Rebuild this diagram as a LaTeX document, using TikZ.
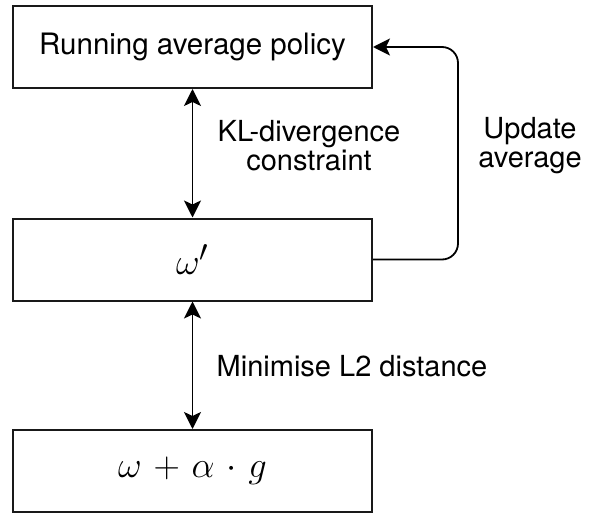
\documentclass[tikz,border=0pt]{standalone}
\usepackage{graphicx}
\usepackage[no-math]{fontspec}
\setmainfont{TeX Gyre Heros}
\usetikzlibrary{arrows.meta}
\newcommand\stagemath[1]{\scalebox{1.47}{$\medmuskip=5.8mu #1$}}
\begin{document}
\begin{tikzpicture}[x=1pt,y=-1pt]
\tikzset{
  box/.style={draw=black!90, line width=2pt, minimum width=359pt, minimum height=82pt,
    inner sep=0pt, fill=white, font=\fontsize{29.5}{32}\selectfont},
  lbl/.style={align=center, inner sep=0pt, font=\fontsize{29}{29}\selectfont},
  link/.style={line width=1.8pt, -{Stealth[length=17pt,width=17pt,inset=4pt]}},
  twoway/.style={line width=1.8pt,
    {Stealth[length=17pt,width=17pt,inset=4pt]}-{Stealth[length=17pt,width=17pt,inset=4pt]}},
}
\useasboundingbox (0,0) rectangle (589,516);

% the three stages
\node[box] (avg)  at (192.5,47)    {Running average policy};
\node[box] (cur)  at (192.5,259.5) {\stagemath{\omega'}};
\node[box] (grad) at (192.5,471)   {\stagemath{\omega+\alpha\cdot g}};

% two-way constraints between stages
\draw[twoway] (avg) -- (cur);
\draw[twoway] (cur) -- (grad);

% feedback loop updating the running average
\coordinate (rail) at (458,150);
\draw[link, rounded corners=16pt] (cur.east) -| (rail) |- (avg.east);

% labels
\node[lbl] (kl)  at (309,146)   {KL-divergence\\constraint};
\node[lbl] (upd) at (530,146)   {Update\\average};
\node[lbl] (l2)  at (352,366.5) {Minimise L2 distance};
\end{tikzpicture}
\end{document}
